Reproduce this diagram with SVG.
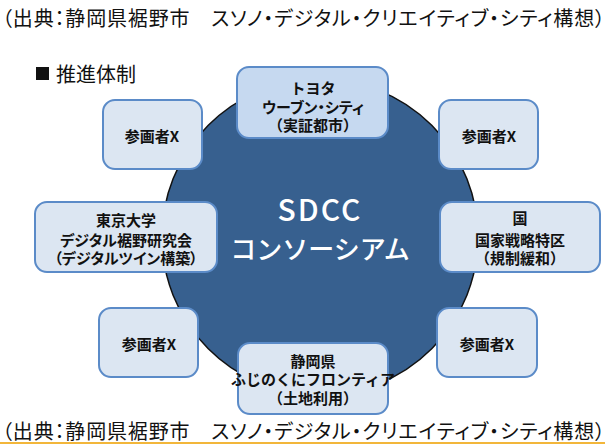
<svg xmlns="http://www.w3.org/2000/svg" width="605" height="444" viewBox="0 0 605 444">
<style>
.t{font-family:"Noto Sans CJK JP","Noto Sans",sans-serif;fill:#111;font-weight:700;font-size:15px;text-anchor:middle}
.p{font-feature-settings:"palt" 1}
.box{fill:#DCE6F2;stroke:#5B8BC8;stroke-width:2}
.hd{font-family:"Noto Sans CJK JP","Noto Sans",sans-serif;fill:#111;font-size:20px;font-feature-settings:"palt" 1}
.ct{font-family:"Noto Sans CJK JP","Noto Sans",sans-serif;fill:#fff;font-weight:500;text-anchor:middle}
</style>
<rect width="605" height="444" fill="#fff"/>
<text class="hd" x="2" y="26" textLength="603" lengthAdjust="spacing">（出典：静岡県裾野市　スソノ・デジタル・クリエイティブ・シティ構想）</text>
<rect x="36" y="67" width="13" height="13" fill="#111"/>
<text class="hd" x="56" y="82">推進体制</text>
<g id="consortium">
<circle cx="320" cy="237" r="158" fill="#37608F" stroke="#111" stroke-width="1.5"/>
<text class="ct" x="320" y="221" font-size="30" font-weight="700" letter-spacing="2">SDCC</text>
<text class="ct" x="320" y="259" font-size="26">コンソーシアム</text>
</g>
<g id="connectors"/>
<g id="toyota">
<rect x="237" y="67" width="151" height="71" rx="12" class="box" style="fill:#C6D9F0"/>
<text class="t" x="313" y="94">トヨタ</text>
<text class="t p" x="313" y="112.5">ウーブン・シティ</text>
<text class="t" x="313" y="131">（実証都市）</text>
</g>
<g id="member-tl">
<rect x="103" y="100" width="99" height="69" rx="12" class="box"/>
<text class="t" x="152" y="142" font-size="16">参画者X</text>
</g>
<g id="member-tr">
<rect x="439" y="100" width="99" height="69" rx="12" class="box"/>
<text class="t" x="489" y="142" font-size="16">参画者X</text>
</g>
<g id="todai">
<rect x="35" y="202" width="182" height="70" rx="12" class="box"/>
<text class="t" x="126" y="226">東京大学</text>
<text class="t p" x="126" y="245.5">デジタル裾野研究会</text>
<text class="t p" x="126" y="264">（デジタルツイン構築）</text>
</g>
<g id="kuni">
<rect x="440" y="202" width="160" height="70" rx="12" class="box"/>
<text class="t" x="520" y="224">国</text>
<text class="t" x="520" y="245.5">国家戦略特区</text>
<text class="t" x="520" y="264">（規制緩和）</text>
</g>
<g id="member-bl">
<rect x="99" y="308" width="99" height="69" rx="12" class="box"/>
<text class="t" x="149" y="350" font-size="16">参画者X</text>
</g>
<g id="member-br">
<rect x="437" y="308" width="100" height="69" rx="12" class="box"/>
<text class="t" x="487" y="350" font-size="16">参画者X</text>
</g>
<g id="shizuoka">
<rect x="238" y="343" width="150" height="71" rx="12" class="box"/>
<text class="t" x="313" y="367">静岡県</text>
<text class="t" x="313" y="385" font-size="12.5">ふじのくにフロンティア</text>
<text class="t" x="313" y="404">（土地利用）</text>
</g>
<text class="hd" x="2" y="439" textLength="603" lengthAdjust="spacing">（出典：静岡県裾野市　スソノ・デジタル・クリエイティブ・シティ構想）</text>
<rect x="0" y="442" width="605" height="2" fill="#F2B63A"/>
</svg>
